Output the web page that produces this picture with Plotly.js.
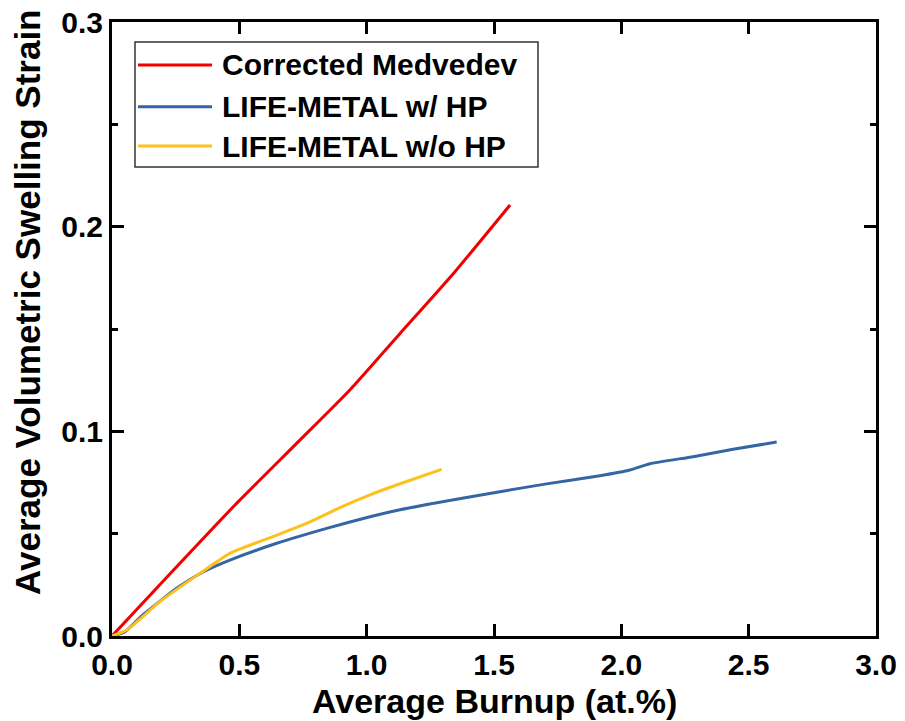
<!DOCTYPE html>
<html>
<head>
<meta charset="utf-8">
<script src="https://cdn.plot.ly/plotly-3.0.1.min.js"></script>
<style>html,body{margin:0;padding:0;background:#fff;}#chart{width:905px;height:721px;}</style>
</head>
<body>
<div id="chart"></div>
<script>
var seriesNames = ["Corrected Medvedev", "LIFE-METAL w/ HP", "LIFE-METAL w/o HP"];

var medvedevX = [0, 0.24, 0.483, 0.725, 0.934, 1.131, 1.34, 1.563];
var medvedevY = [0, 0.032, 0.064, 0.0941, 0.1202, 0.1478, 0.1770, 0.2106];

var withHpX = [0, 0.05, 0.123, 0.254, 0.359, 0.463, 0.647, 0.843, 1.013, 1.131, 1.353, 1.523, 1.7, 1.916, 2.034, 2.112, 2.282, 2.439, 2.61];
var withHpY = [0, 0.002, 0.0105, 0.0233, 0.0314, 0.0371, 0.0453, 0.0526, 0.0583, 0.0617, 0.0668, 0.0705, 0.0742, 0.0783, 0.0811, 0.0842, 0.0876, 0.0912, 0.0948];

var withoutHpX = [0, 0.058, 0.188, 0.345, 0.463, 0.647, 0.777, 0.908, 1.013, 1.131, 1.294];
var withoutHpY = [0, 0.0029, 0.0168, 0.0306, 0.0404, 0.0493, 0.0558, 0.0635, 0.0690, 0.0744, 0.0814];

var colors = ["#f00000", "#3465a4", "#fcc11a"];

var fontFam = "Liberation Sans, Arial, sans-serif";

var traces = [
  {x: medvedevX, y: medvedevY, name: seriesNames[0], mode: "lines", line: {color: colors[0], width: 3, shape: "spline", smoothing: 0.5}},
  {x: withHpX, y: withHpY, name: seriesNames[1], mode: "lines", line: {color: colors[1], width: 3, shape: "spline", smoothing: 0.5}},
  {x: withoutHpX, y: withoutHpY, name: seriesNames[2], mode: "lines", line: {color: colors[2], width: 3, shape: "spline", smoothing: 0.5}}
];

var axisCommon = {
  showgrid: false, zeroline: false, showline: true, linecolor: "#000", linewidth: 3,
  mirror: "ticks", ticks: "inside", ticklen: 12, tickwidth: 3, tickcolor: "#000",
  tickfont: {family: fontFam, size: 30, color: "#000", weight: "bold"}, tickformat: ".1f"
};

// custom legend (long line samples, as in the original)
var legendRowsY = [0.930, 0.862, 0.798];
var shapes = [{
  type: "rect", xref: "paper", yref: "paper", x0: 0.0301, x1: 0.5576, y0: 0.7638, y1: 0.9674,
  line: {color: "#333", width: 1.5}, fillcolor: "#fff", layer: "above"
}];
var annotations = [];
for (var i = 0; i < seriesNames.length; i++) {
  shapes.push({type: "line", xref: "paper", yref: "paper", x0: 0.034, x1: 0.1309,
    y0: legendRowsY[i], y1: legendRowsY[i], line: {color: colors[i], width: 3}, layer: "above"});
  annotations.push({text: seriesNames[i], xref: "paper", yref: "paper", x: 0.142, y: legendRowsY[i],
    xanchor: "left", yanchor: "middle", showarrow: false,
    font: {family: fontFam, size: 30, color: "#000", weight: "bold"}});
}
annotations.push({
  text: "Average Volumetric Swelling Strain", textangle: -90,
  xref: "paper", yref: "paper", x: -0.110, y: 0.544, xanchor: "center", yanchor: "middle",
  showarrow: false, font: {family: fontFam, size: 35, color: "#000", weight: "bold"}
});
annotations.push({
  text: "Average Burnup (at.%)",
  xref: "paper", yref: "paper", x: 0.5, y: -0.1065, xanchor: "center", yanchor: "middle",
  showarrow: false, font: {family: fontFam, size: 34, color: "#000", weight: "bold"}
});

var layout = {
  width: 905, height: 721,
  margin: {l: 112, r: 29, t: 22, b: 85},
  paper_bgcolor: "#fff", plot_bgcolor: "#fff",
  showlegend: false,
  xaxis: Object.assign({}, axisCommon, {range: [0, 3], dtick: 0.5, tick0: 0}),
  yaxis: Object.assign({}, axisCommon, {
    range: [0, 0.3], dtick: 0.1, tick0: 0,
    minor: {dtick: 0.05, ticks: "inside", ticklen: 6, tickwidth: 3, tickcolor: "#000"}
  }),
  shapes: shapes,
  annotations: annotations
};

Plotly.newPlot("chart", traces, layout, {displayModeBar: false, staticPlot: true});
</script>
</body>
</html>
